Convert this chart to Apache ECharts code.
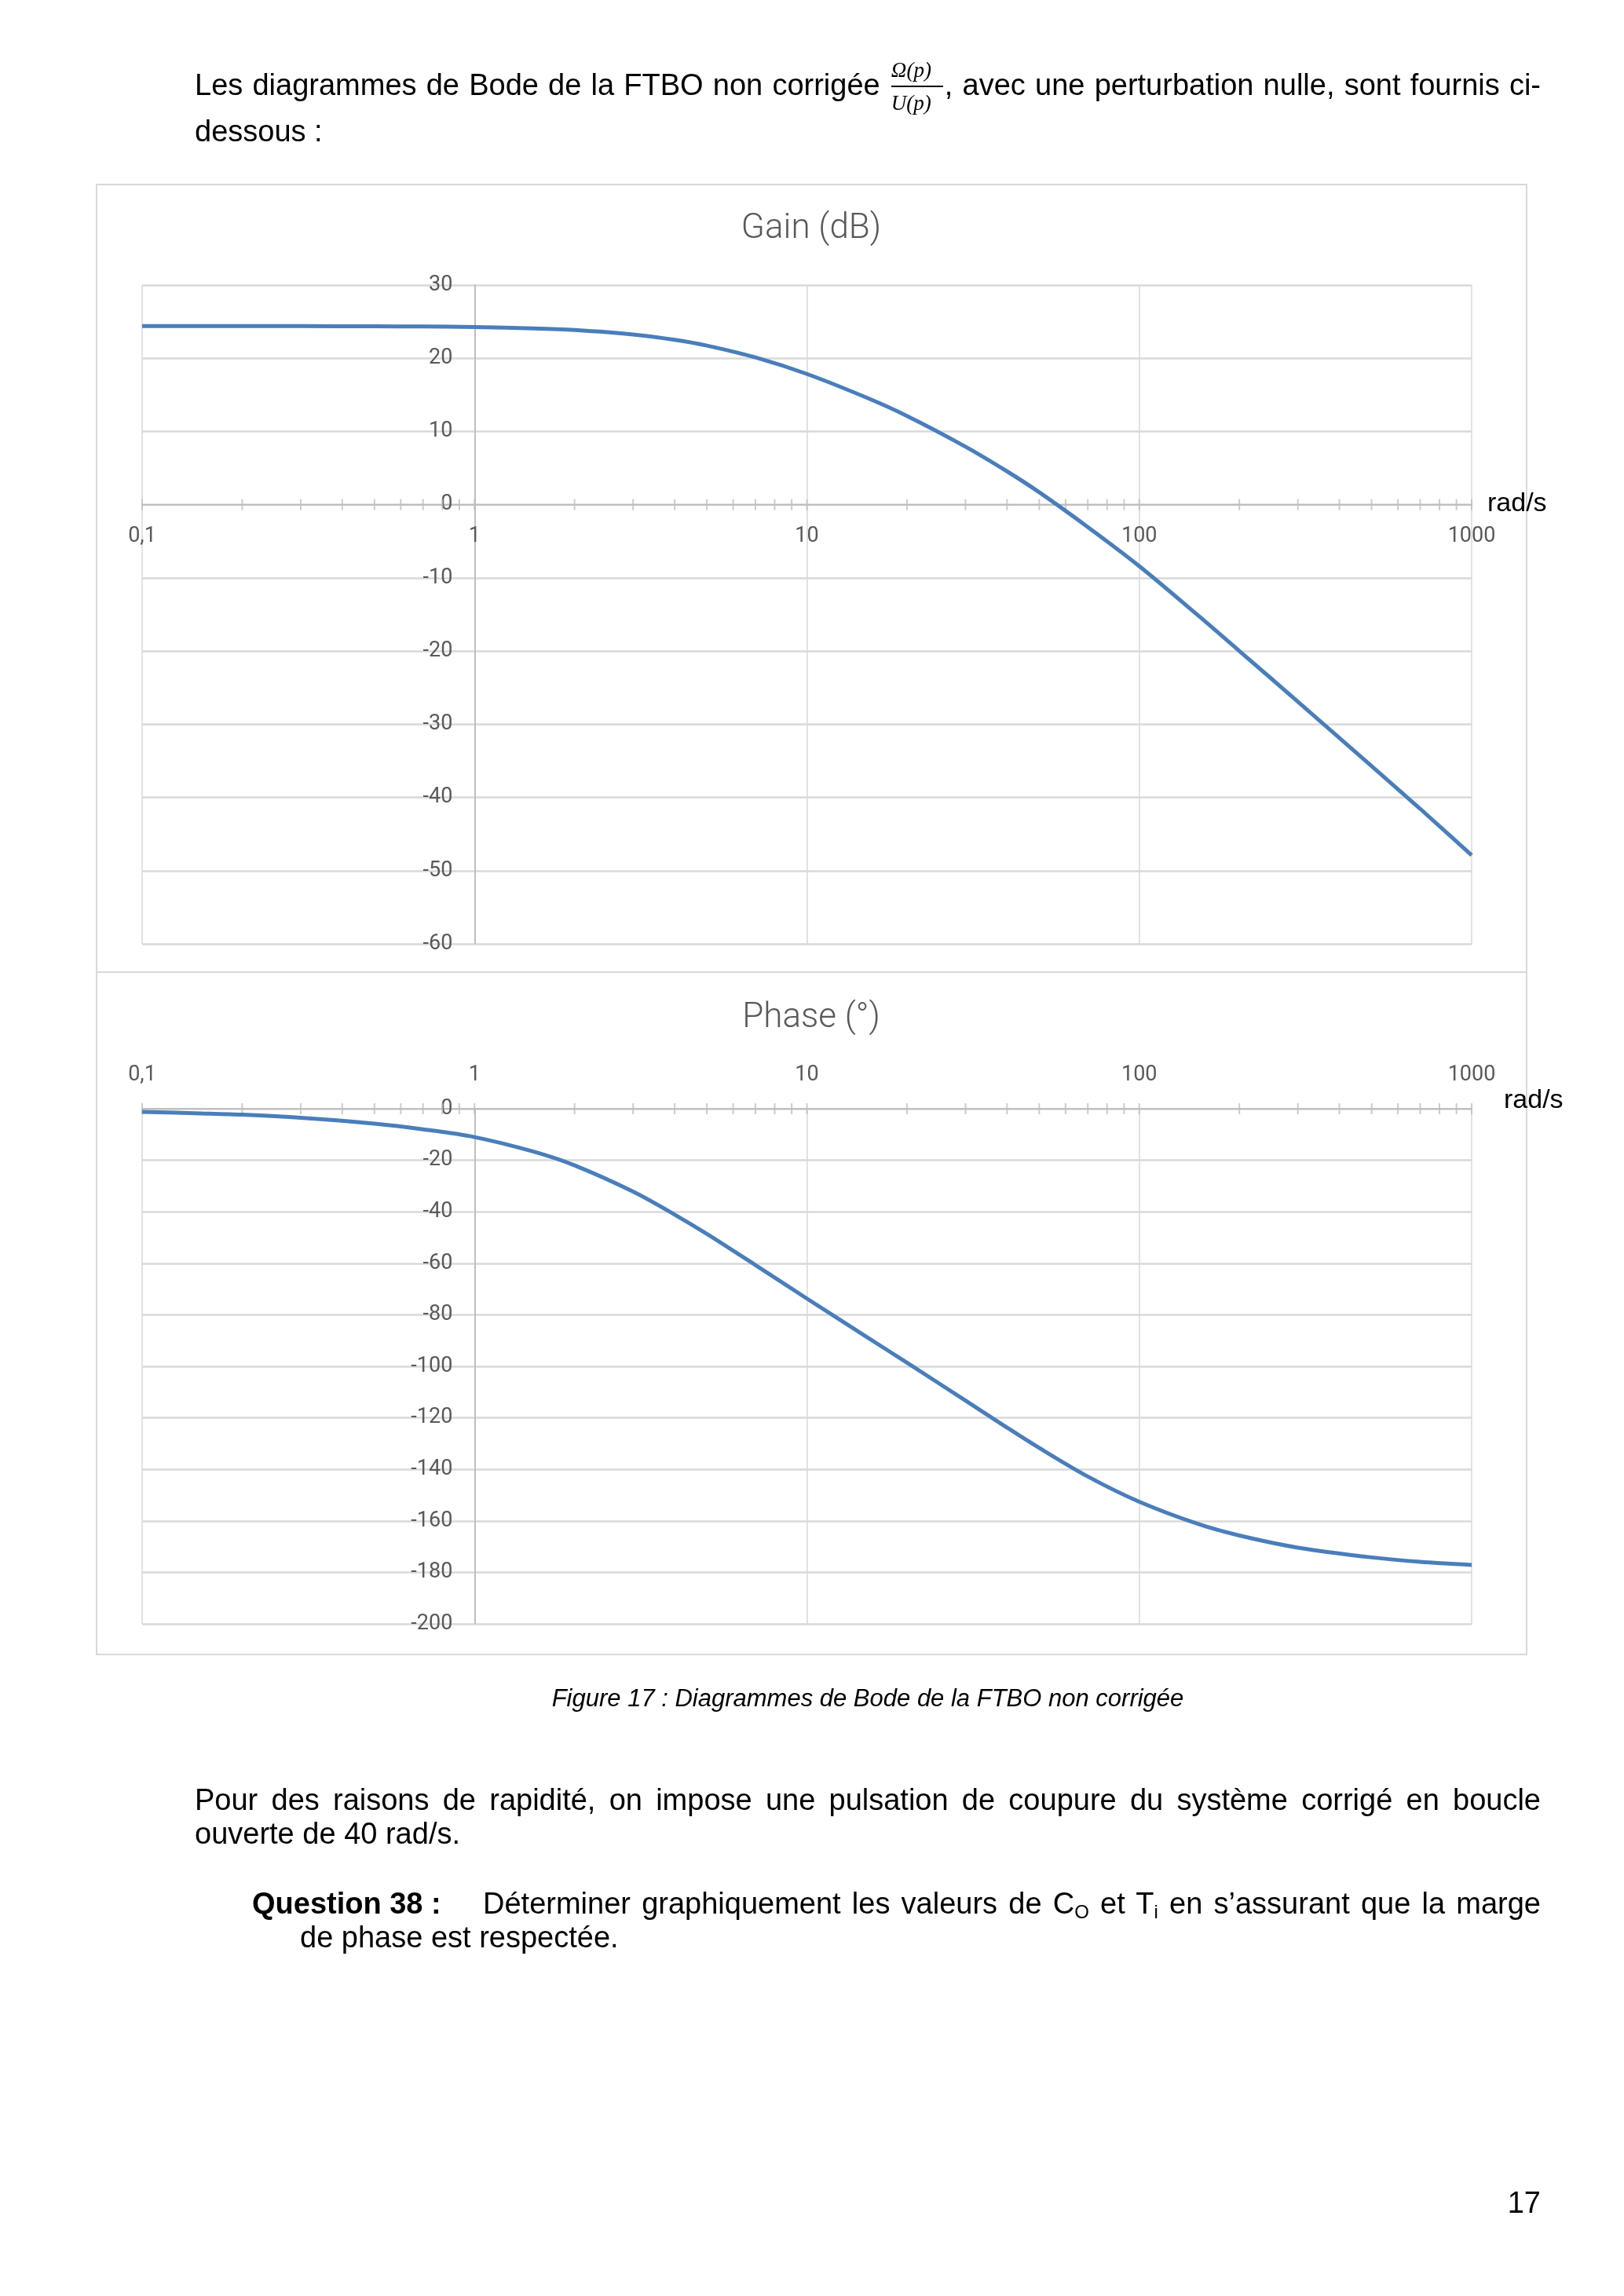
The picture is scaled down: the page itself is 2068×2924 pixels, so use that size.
<!DOCTYPE html>
<html>
<head>
<meta charset="utf-8">
<script src="https://cdn.jsdelivr.net/npm/echarts@6/dist/echarts.min.js"></script>
<style>
  html, body { margin: 0; padding: 0; background: #fff; }
  body { width: 2068px; height: 2924px; position: relative; overflow: hidden; }
  #chart { position: absolute; left: 0; top: 0; width: 2068px; height: 2924px; }
  .t { position: absolute; font-family: "Liberation Sans", Arial, sans-serif; font-size: 38px; line-height: 38px; color: #000; white-space: normal; }
  .j { text-align: justify; text-align-last: justify; }
  .frac { position: absolute; left: 2px; top: -20px; width: 66px; text-align: center; font-family: "Liberation Serif", "DejaVu Serif", serif; font-style: italic; font-size: 27px; }
  .frac .n, .frac .d { line-height: 40px; height: 40px; }
  .frac .bar { height: 2px; background: #000; }
  .cap { position: absolute; left: 248px; width: 1714px; top: 2147px; text-align: center; font-family: "Liberation Sans", Arial, sans-serif; font-style: italic; font-size: 31px; line-height: 31px; }
  sub { font-size: 24px; line-height: 0; vertical-align: -6px; }
</style>
</head>
<body>
<div id="chart"></div>

<div class="t j" style="left:248px; top:89px; width:1714px;">Les diagrammes de Bode de la FTBO non corrigée <span style="display:inline-block; position:relative; width:70px; height:38px; vertical-align:top;"><div class="frac"><div class="n">Ω(p)</div><div class="bar"></div><div class="d">U(p)</div></div></span>, avec une perturbation nulle, sont fournis ci-</div>
<div class="t" style="left:248px; top:148px;">dessous :</div>

<div class="cap">Figure 17 : Diagrammes de Bode de la FTBO non corrigée</div>

<div class="t j" style="left:248px; top:2273px; width:1714px;">Pour des raisons de rapidité, on impose une pulsation de coupure du système corrigé en boucle</div>
<div class="t" style="left:248px; top:2316px;">ouverte de 40 rad/s.</div>

<div class="t" style="left:321px; top:2405px; font-weight:bold;">Question 38 :</div>
<div class="t j" style="left:615px; top:2405px; width:1347px;">Déterminer graphiquement les valeurs de C<sub>O</sub> et T<sub>i</sub> en s’assurant que la marge</div>
<div class="t" style="left:382px; top:2448px;">de phase est respectée.</div>

<div class="t" style="left:1862px; top:2786px; width:100px; text-align:right;">17</div>

<script>
// ---- data ----
const freq = [0.1, 0.15, 0.2, 0.3, 0.5, 0.7, 1, 1.5, 2, 3, 4, 5, 7, 10, 15, 20, 30, 40, 50, 70, 100, 150, 200, 300, 500, 700, 1000];
const gainDb = [24.40, 24.40, 24.39, 24.39, 24.36, 24.33, 24.26, 24.08, 23.85, 23.25, 22.52, 21.73, 20.11, 17.85, 14.68, 12.12, 7.92, 4.55, 1.69, -3.06, -8.4, -15.1, -19.99, -26.91, -35.72, -41.55, -47.9];
const phaseDeg = [-1.2, -1.8, -2.3, -3.5, -5.8, -8.0, -11.0, -16.6, -22.0, -32.2, -41.1, -48.6, -60.7, -73.7, -88.3, -98.6, -113.3, -123.8, -131.7, -142.8, -152.6, -161.2, -165.7, -170.4, -174.2, -175.9, -177.1];
const axisTickValues = [0.1, 0.2, 0.3, 0.4, 0.5, 0.6, 0.7, 0.8, 0.9, 1, 2, 3, 4, 5, 6, 7, 8, 9, 10, 20, 30, 40, 50, 60, 70, 80, 90, 100, 200, 300, 400, 500, 600, 700, 800, 900, 1000];
const gainTicks = { min: -60, max: 30, interval: 10 };
const phaseTicks = { min: -200, max: 0, interval: 20 };
const titles = ['Gain (dB)', 'Phase (°)'];
const unitLabel = 'rad/s';

const chart = echarts.init(document.getElementById('chart'), null, { renderer: 'canvas' });

const labelFont = { color: '#595959', fontFamily: 'Roboto', fontSize: 27 };
const fmt = v => String(+v.toPrecision(6)).replace('.', ',');

// gain grid: height 839, zero line 30/90 of height below top
const gainGrid = { left: 181, top: 363, width: 1693, height: 839 };
const gainZeroOffset = -(gainGrid.height * (0 - gainTicks.min) / (gainTicks.max - gainTicks.min));

function xAxisCfg(gi, pos, margin, offset) {
  return {
    gridIndex: gi, type: 'log', logBase: 10, min: 0.1, max: 1000, position: pos, offset: offset,
    axisLine: { show: true, onZero: false, lineStyle: { color: '#bfbfbf', width: 2 } },
    axisTick: { show: false },
    minorTick: { show: false },
    axisLabel: Object.assign({ margin: margin, formatter: fmt, showMinLabel: true, showMaxLabel: true }, labelFont),
    splitLine: { show: true, lineStyle: { color: '#d9d9d9', width: 1.5 } }
  };
}
function yAxisCfg(gi, t) {
  return {
    gridIndex: gi, type: 'value', min: t.min, max: t.max, interval: t.interval,
    position: 'left', offset: -423.3,
    axisLine: { show: true, onZero: false, lineStyle: { color: '#bfbfbf', width: 2 } },
    axisTick: { show: false },
    axisLabel: Object.assign({ margin: 28 }, labelFont),
    splitLine: { show: true, lineStyle: { color: '#d9d9d9', width: 2.5 } }
  };
}

const option = {
  backgroundColor: '#ffffff',
  animation: false,
  grid: [
    Object.assign({ containLabel: false, outerBoundsMode: 'none' }, gainGrid),
    { left: 181, top: 1412, width: 1693, height: 656, containLabel: false, outerBoundsMode: 'none' }
  ],
  xAxis: [xAxisCfg(0, 'bottom', 27, gainZeroOffset), xAxisCfg(1, 'top', 29, 0)],
  yAxis: [yAxisCfg(0, gainTicks), yAxisCfg(1, phaseTicks)],
  graphic: [
    { type: 'rect', silent: true, z: -10, shape: { x: 123, y: 235, width: 1821, height: 1003 }, style: { fill: 'none', stroke: '#d9d9d9', lineWidth: 2 } },
    { type: 'rect', silent: true, z: -10, shape: { x: 123, y: 1238, width: 1821, height: 869 }, style: { fill: 'none', stroke: '#d9d9d9', lineWidth: 2 } },
    { type: 'text', silent: true, x: 1033, y: 292, style: { text: titles[0], fill: '#595959', fontFamily: 'Roboto', fontWeight: 300, fontSize: 44, align: 'center', verticalAlign: 'middle' } },
    { type: 'text', silent: true, x: 1033, y: 1297, style: { text: titles[1], fill: '#595959', fontFamily: 'Roboto', fontWeight: 300, fontSize: 44, align: 'center', verticalAlign: 'middle' } },
    { type: 'text', silent: true, x: 1894, y: 642, style: { text: unitLabel, fill: '#000', fontFamily: '"Liberation Sans", Arial', fontSize: 34, align: 'left', verticalAlign: 'middle' } },
    { type: 'text', silent: true, x: 1915, y: 1402, style: { text: unitLabel, fill: '#000', fontFamily: '"Liberation Sans", Arial', fontSize: 34, align: 'left', verticalAlign: 'middle' } }
  ],
  series: [
    { type: 'scatter', xAxisIndex: 0, yAxisIndex: 0, silent: true, z: 1, symbol: 'rect', symbolSize: [2, 14],
      itemStyle: { color: '#bfbfbf' }, data: axisTickValues.map(v => [v, 0]) },
    { type: 'scatter', xAxisIndex: 1, yAxisIndex: 1, silent: true, z: 1, symbol: 'rect', symbolSize: [2, 14],
      itemStyle: { color: '#bfbfbf' }, data: axisTickValues.map(v => [v, 0]) },
    { type: 'line', name: titles[0], xAxisIndex: 0, yAxisIndex: 0, z: 3, showSymbol: false, smooth: 0.3,
      lineStyle: { color: '#4a7ebb', width: 5 }, data: freq.map((f, i) => [f, gainDb[i]]) },
    { type: 'line', name: titles[1], xAxisIndex: 1, yAxisIndex: 1, z: 3, showSymbol: false, smooth: 0.3,
      lineStyle: { color: '#4a7ebb', width: 5 }, data: freq.map((f, i) => [f, phaseDeg[i]]) }
  ]
};
chart.setOption(option);
</script>
</body>
</html>
